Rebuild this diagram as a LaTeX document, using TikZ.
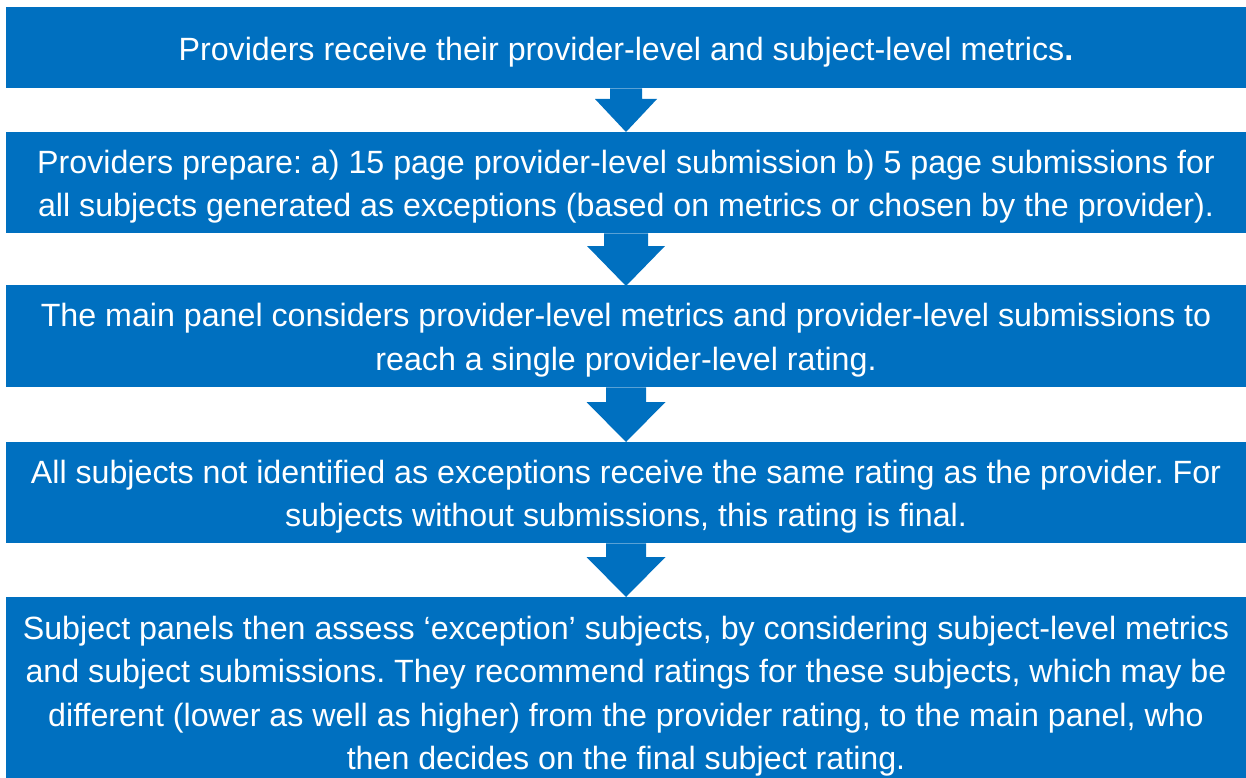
\documentclass[tikz,border=0pt]{standalone}
\usepackage{fontspec}
\setmainfont{Liberation Sans}
\usetikzlibrary{calc}
\definecolor{boxblue}{HTML}{0070C0}
\tikzset{
  stagebox/.style={fill=boxblue, draw=none, inner sep=0pt, minimum width=1240pt, anchor=north},
  stagetext/.style={text=white, align=center, inner sep=0pt,
    font=\fontsize{32.2}{43.3}\selectfont\frenchspacing},
  arrowfill/.style={fill=boxblue, draw=none}
}
\begin{document}
\begin{tikzpicture}[x=1pt,y=-1pt]
\fill[white] (0,0) rectangle (1246,778);
\useasboundingbox (0,0) rectangle (1246,778);

\node[stagebox, minimum height=81pt] (b1) at (626,7) {};
\node[stagebox, minimum height=101pt] (b2) at (626,132) {};
\node[stagebox, minimum height=102pt] (b3) at (626,285) {};
\node[stagebox, minimum height=101pt] (b4) at (626,442) {};
\node[stagebox, minimum height=181pt] (b5) at (626,597) {};

\node[stagetext] (t1) at ([yshift=-4pt]b1.center)
  {Providers receive their provider-level and subject-level metrics{\bfseries .}};
\node[stagetext] (t2) at ([yshift=-4pt]b2.center)
  {Providers prepare: a) 15 page provider-level submission b) 5 page submissions for\\
   all subjects generated as exceptions (based on metrics or chosen by the provider).};
\node[stagetext] (t3) at ([yshift=-4pt]b3.center)
  {The main panel considers provider-level metrics and provider-level submissions to\\
   reach a single provider-level rating.};
\node[stagetext] (t4) at ([yshift=-4pt]b4.center)
  {All subjects not identified as exceptions receive the same rating as the provider. For\\
   subjects without submissions, this rating is final.};
\node[stagetext] (t5) at ([yshift=-8.5pt]b5.center)
  {Subject panels then assess ‘exception’ subjects, by considering subject-level metrics\\
   and subject submissions. They recommend ratings for these subjects, which may be\\
   different (lower as well as higher) from the provider rating, to the main panel, who\\
   then decides on the final subject rating.};

% arrow 1
\fill[arrowfill] ([xshift=-16pt]b1.south) -- ([xshift=-16pt,yshift=33pt]b2.north)
  -- ([xshift=-31pt,yshift=33pt]b2.north) -- (b2.north)
  -- ([xshift=31pt,yshift=33pt]b2.north) -- ([xshift=16pt,yshift=33pt]b2.north)
  -- ([xshift=16pt]b1.south) -- cycle;
% arrow 2
\fill[arrowfill] ([xshift=-22pt]b2.south) -- ([xshift=-22pt,yshift=39pt]b3.north)
  -- ([xshift=-39pt,yshift=39pt]b3.north) -- ([yshift=-1pt]b3.north)
  -- ([xshift=39pt,yshift=39pt]b3.north) -- ([xshift=22pt,yshift=39pt]b3.north)
  -- ([xshift=22pt]b2.south) -- cycle;
% arrow 3
\fill[arrowfill] ([xshift=-20pt]b3.south) -- ([xshift=-20pt,yshift=40pt]b4.north)
  -- ([xshift=-39.5pt,yshift=40pt]b4.north) -- (b4.north)
  -- ([xshift=39.5pt,yshift=40pt]b4.north) -- ([xshift=20pt,yshift=40pt]b4.north)
  -- ([xshift=20pt]b3.south) -- cycle;
% arrow 4
\fill[arrowfill] ([xshift=-20pt]b4.south) -- ([xshift=-20pt,yshift=40pt]b5.north)
  -- ([xshift=-39.5pt,yshift=40pt]b5.north) -- (b5.north)
  -- ([xshift=39.5pt,yshift=40pt]b5.north) -- ([xshift=20pt,yshift=40pt]b5.north)
  -- ([xshift=20pt]b4.south) -- cycle;
\end{tikzpicture}
\end{document}
